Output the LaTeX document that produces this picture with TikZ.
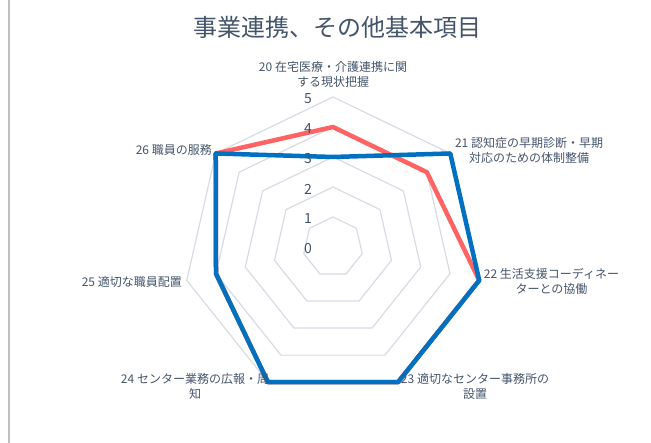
\documentclass[tikz,border=0pt]{standalone}
\usepackage{fontspec}
\newfontfamily\jpfont{Noto Sans CJK JP}
\usepackage{xcolor}
\usetikzlibrary{calc}

\definecolor{textGray}{RGB}{68,84,106}
\definecolor{gridGray}{RGB}{214,220,229}
\definecolor{seriesRed}{RGB}{255,99,99}
\definecolor{seriesBlue}{RGB}{0,112,192}
\definecolor{frameGray}{RGB}{191,191,191}

\begin{document}
\begin{tikzpicture}[
    x=1pt, y=1pt,
    % --- styles ---
    seriesLine/.style = {color=#1, line width=4.5pt, line join=round}, % data series
    gridLine/.style = {color=gridGray, line width=1.2pt},             % value rings
    catLabel/.style = {text=textGray, font=\jpfont\fontsize{12}{15}\selectfont, align=center, inner sep=0pt},
    tickLabel/.style = {text=textGray, font=\jpfont\fontsize{14}{16}\selectfont, inner sep=0pt},
    chartTitle/.style = {text=textGray, font=\jpfont\fontsize{24}{28}\selectfont, inner sep=0pt}
    ]
    \useasboundingbox (0,0) rectangle (651,443);

    % --- parameters ---
    \def\ringsep{30}   % one value step
    \coordinate (O) at (333,196);   % centre of the chart

    % --- frame line on the left ---
    \draw[frameGray, line width=2pt] (8.5,0) -- (8.5,443);

    % --- value rings 1..5 ---
    \foreach \v in {1,...,5} {
        \draw[gridLine] ($(O)+(90:{\v*\ringsep})$)
            \foreach \k in {1,...,6} { -- ($(O)+({90-\k*360/7}:{\v*\ringsep})$) } -- cycle;
    }

    % --- data points ---
    \foreach \v [count=\k from 0] in {4,4,5,5,5,4,5}
        \coordinate (r\k) at ($(O)+({90-\k*360/7}:{\v*\ringsep})$);
    \foreach \v [count=\k from 0] in {3,5,5,5,5,4,5}
        \coordinate (b\k) at ($(O)+({90-\k*360/7}:{\v*\ringsep})$);

    % --- series ---
    \draw[seriesLine={seriesRed}] (r0) -- (r1) -- (r2) -- (r3) -- (r4) -- (r5) -- (r6) -- cycle;
    \draw[seriesLine={seriesBlue}] (b0) -- (b1) -- (b2) -- (b3) -- (b4) -- (b5) -- (b6) -- cycle;

    % --- value labels ---
    \foreach \v in {0,...,5}
        \node[tickLabel] (t\v) at ($(O)+(-25,{\v*\ringsep-2})$) {\v};

    % --- category labels ---
    \node[catLabel] (c20) at (333,368.5) {20 在宅医療・介護連携に関\\する現状把握};
    \node[catLabel] (c21) at (529,292.5) {21 認知症の早期診断・早期\\対応のための体制整備};
    \node[catLabel] (c22) at (551.5,161.5) {22 生活支援コーディネー\\ターとの協働};
    \node[catLabel] (c23) at (475,56.5) {23 適切なセンター事務所の\\設置};
    \node[catLabel] (c24) at (195,56.5) {24 センター業務の広報・周\\知};
    \node[catLabel, anchor=east] (c25) at (182,161) {25 適切な職員配置};
    \node[catLabel, anchor=east] (c26) at (212,293) {26 職員の服務};

    % --- title ---
    \node[chartTitle] (title) at (337,416) {事業連携、その他基本項目};
\end{tikzpicture}
\end{document}
